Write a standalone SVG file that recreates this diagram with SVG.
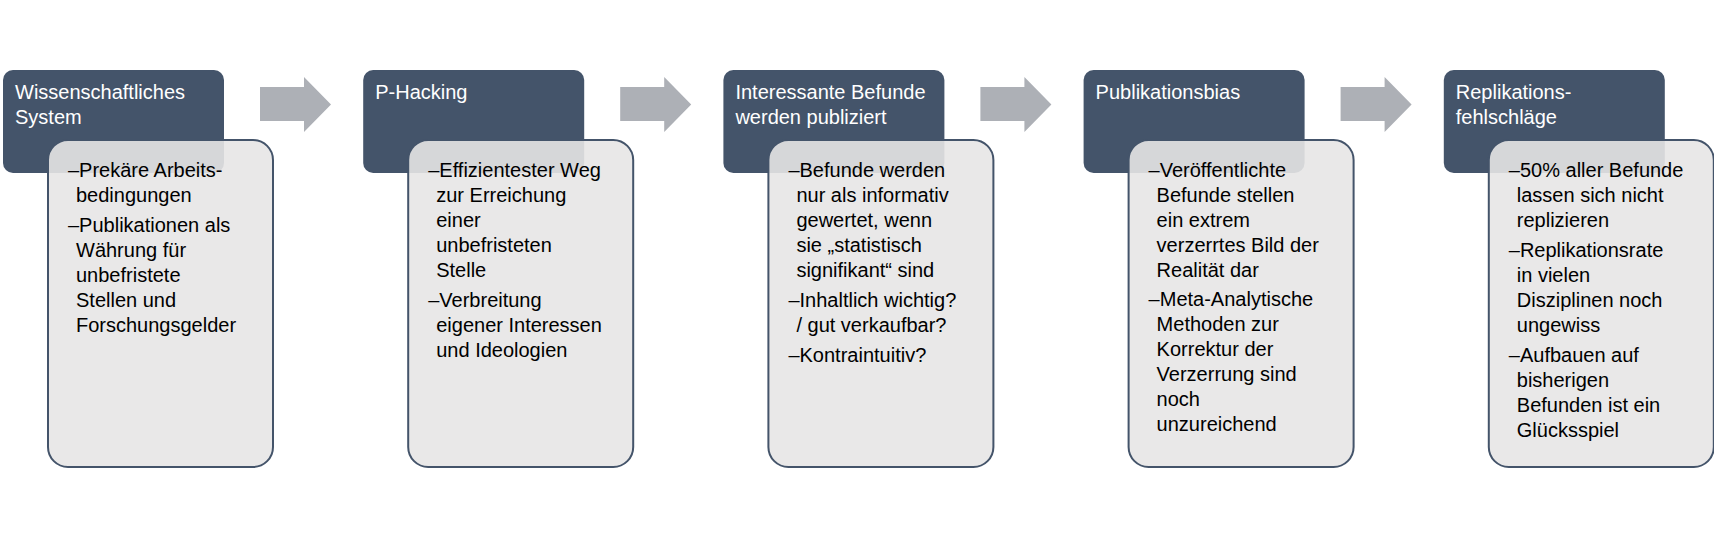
<svg xmlns="http://www.w3.org/2000/svg" width="1714" height="535" viewBox="0 0 1714 535">
<style>
.hdr{fill:#44546a;}
.body{fill:#e7e6e6;fill-opacity:0.9;stroke:#44546a;stroke-width:2;}
.ht{font-family:"Liberation Sans",Arial,sans-serif;font-size:20px;fill:#ffffff;}
.bt{font-family:"Liberation Sans",Arial,sans-serif;font-size:20px;fill:#000000;}
.arr{fill:#adb0b6;}
</style>
<rect width="1714" height="535" fill="#ffffff"/>
<defs>
<polygon id="arrowShape" points="260,87 304,87 304,77 331,104.5 304,132 304,121 260,121"/>
</defs>
<g id="connectors">
<use href="#arrowShape" class="arr"/>
<use href="#arrowShape" class="arr" transform="translate(360.2,0)"/>
<use href="#arrowShape" class="arr" transform="translate(720.4,0)"/>
<use href="#arrowShape" class="arr" transform="translate(1080.6,0)"/>
</g>
<g id="node1">
<rect class="hdr" x="3" y="70" width="221" height="103" rx="10"/>
<text class="ht" x="15" y="99">Wissenschaftliches</text>
<text class="ht" x="15" y="124">System</text>
<rect class="body" x="48" y="140" width="225" height="327" rx="20"/>
<text class="bt"><tspan x="68" y="177">–Prekäre Arbeits-</tspan><tspan x="76" y="202">bedingungen</tspan><tspan x="68" y="232">–Publikationen als</tspan><tspan x="76" y="257">Währung für</tspan><tspan x="76" y="282">unbefristete</tspan><tspan x="76" y="307">Stellen und</tspan><tspan x="76" y="332">Forschungsgelder</tspan></text>
</g>
<g id="node2" transform="translate(360.2,0)">
<rect class="hdr" x="3" y="70" width="221" height="103" rx="10"/>
<text class="ht" x="15" y="99">P-Hacking</text>
<rect class="body" x="48" y="140" width="225" height="327" rx="20"/>
<text class="bt"><tspan x="68" y="177">–Effizientester Weg</tspan><tspan x="76" y="202">zur Erreichung</tspan><tspan x="76" y="227">einer</tspan><tspan x="76" y="252">unbefristeten</tspan><tspan x="76" y="277">Stelle</tspan><tspan x="68" y="307">–Verbreitung</tspan><tspan x="76" y="332">eigener Interessen</tspan><tspan x="76" y="357">und Ideologien</tspan></text>
</g>
<g id="node3" transform="translate(720.4,0)">
<rect class="hdr" x="3" y="70" width="221" height="103" rx="10"/>
<text class="ht" x="15" y="99">Interessante Befunde</text>
<text class="ht" x="15" y="124">werden publiziert</text>
<rect class="body" x="48" y="140" width="225" height="327" rx="20"/>
<text class="bt"><tspan x="68" y="177">–Befunde werden</tspan><tspan x="76" y="202">nur als informativ</tspan><tspan x="76" y="227">gewertet, wenn</tspan><tspan x="76" y="252">sie „statistisch</tspan><tspan x="76" y="277">signifikant“ sind</tspan><tspan x="68" y="307">–Inhaltlich wichtig?</tspan><tspan x="76" y="332">/ gut verkaufbar?</tspan><tspan x="68" y="362">–Kontraintuitiv?</tspan></text>
</g>
<g id="node4" transform="translate(1080.6,0)">
<rect class="hdr" x="3" y="70" width="221" height="103" rx="10"/>
<text class="ht" x="15" y="99">Publikationsbias</text>
<rect class="body" x="48" y="140" width="225" height="327" rx="20"/>
<text class="bt"><tspan x="68" y="177">–Veröffentlichte</tspan><tspan x="76" y="202">Befunde stellen</tspan><tspan x="76" y="227">ein extrem</tspan><tspan x="76" y="252">verzerrtes Bild der</tspan><tspan x="76" y="277">Realität dar</tspan><tspan x="68" y="306">–Meta-Analytische</tspan><tspan x="76" y="331">Methoden zur</tspan><tspan x="76" y="356">Korrektur der</tspan><tspan x="76" y="381">Verzerrung sind</tspan><tspan x="76" y="406">noch</tspan><tspan x="76" y="431">unzureichend</tspan></text>
</g>
<g id="node5" transform="translate(1440.8,0)">
<rect class="hdr" x="3" y="70" width="221" height="103" rx="10"/>
<text class="ht" x="15" y="99">Replikations-</text>
<text class="ht" x="15" y="124">fehlschläge</text>
<rect class="body" x="48" y="140" width="225" height="327" rx="20"/>
<text class="bt"><tspan x="68" y="177">–50% aller Befunde</tspan><tspan x="76" y="202">lassen sich nicht</tspan><tspan x="76" y="227">replizieren</tspan><tspan x="68" y="257">–Replikationsrate</tspan><tspan x="76" y="282">in vielen</tspan><tspan x="76" y="307">Disziplinen noch</tspan><tspan x="76" y="332">ungewiss</tspan><tspan x="68" y="362">–Aufbauen auf</tspan><tspan x="76" y="387">bisherigen</tspan><tspan x="76" y="412">Befunden ist ein</tspan><tspan x="76" y="437">Glücksspiel</tspan></text>
</g>
</svg>
